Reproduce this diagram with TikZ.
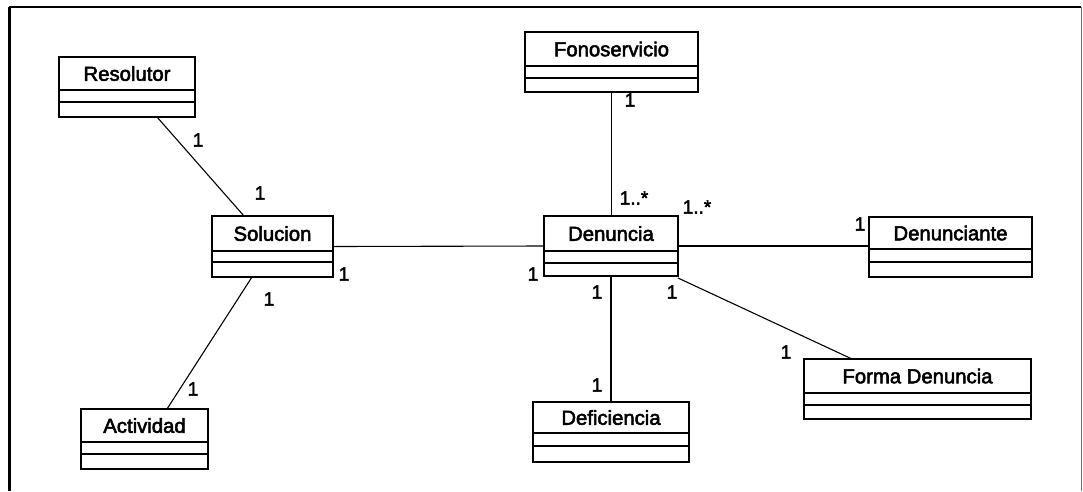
\documentclass[tikz,border=0pt]{standalone}
\usepackage{fontspec}
\newfontfamily\umlfont[FakeBold=2.6]{Liberation Sans}
\usetikzlibrary{calc}

% class box: name, title, x1, y1, x2, y2, first divider, second divider
\newcommand\umlbox[8]{%
  \node[classbox, minimum width={#5-#3}, minimum height={#6-#4}] (#1) at ({(#3+#5)/2},{(#4+#6)/2}) {};
  \node[classtitle] (#1-title) at ({(#3+#5)/2},{(#4+#7)/2}) {#2};
  \draw[divider] (#3,#7) -- (#5,#7);
  \draw[divider] (#3,#8) -- (#5,#8);
}

\tikzset{
  classbox/.style={draw=black, line width=1.3pt, inner sep=0pt, outer sep=0pt, fill=white},
  classtitle/.style={font=\umlfont\fontsize{20.3}{24}\selectfont, inner sep=0pt},
  divider/.style={draw=black, line width=1.1pt},
  assoc/.style={draw=black, line width=1.1pt},
  mult/.style={font=\umlfont\fontsize{19}{22}\selectfont, inner sep=0pt},
}

\begin{document}
\begin{tikzpicture}[x=1pt, y=-1pt]
  \useasboundingbox (0,0) rectangle (1083,491);

  % outer frame
  \draw[line width=3pt] (9,491) -- (9,7);
  \draw[line width=2.4pt] (9,7) -- (1081,7);
  \draw[line width=1pt, black!55] (1081,7) -- (1081,491);

  % classes
  \umlbox{res}{Resolutor}{59}{57}{195}{117}{90}{102}
  \umlbox{sol}{Solucion}{212}{216}{333}{277}{251}{262}
  \umlbox{act}{Actividad}{81}{409}{208}{469}{442}{454}
  \umlbox{fono}{Fonoservicio}{525}{32}{698}{92}{66}{78}
  \umlbox{den}{Denuncia}{544}{216}{678}{276}{251}{263}
  \umlbox{dte}{Denunciante}{869}{217}{1032}{277}{249}{262}
  \umlbox{forma}{Forma Denuncia}{804}{359}{1031}{419}{393}{405}
  \umlbox{def}{Deficiencia}{533}{402}{689}{462}{433}{446}

  % associations
  \draw[assoc] ([xshift=30]res.south) -- ([xshift=-28.5]sol.north);
  \draw[assoc] ([xshift=-20.5]sol.south) -- ([xshift=22.5]act.north);
  \draw[assoc] (sol.east) -- (den.west);
  \draw[assoc] (fono.south) -- (fono.south |- den.north);
  \draw[assoc] (den.east) -- (dte.west |- den.east);
  \draw[assoc] ([yshift=-2]den.south east) -- ([xshift=-65.5]forma.north);
  \draw[assoc] (den.south) -- (den.south |- def.north);

  % multiplicities
  \node[mult] (m1) at (198,140) {1};
  \node[mult] (m2) at (260,193) {1};
  \node[mult] (m3) at (344,274) {1};
  \node[mult] (m4) at (269,299) {1};
  \node[mult] (m5) at (193,389) {1};
  \node[mult] (m6) at (630,100) {1};
  \node[mult] (m7) at (634,198) {1..*};
  \node[mult] (m8) at (697,207) {1..*};
  \node[mult] (m9) at (860,224) {1};
  \node[mult] (m10) at (533,274) {1};
  \node[mult] (m11) at (597,292) {1};
  \node[mult] (m12) at (672,292) {1};
  \node[mult] (m13) at (786,352) {1};
  \node[mult] (m14) at (597,385) {1};
\end{tikzpicture}
\end{document}
